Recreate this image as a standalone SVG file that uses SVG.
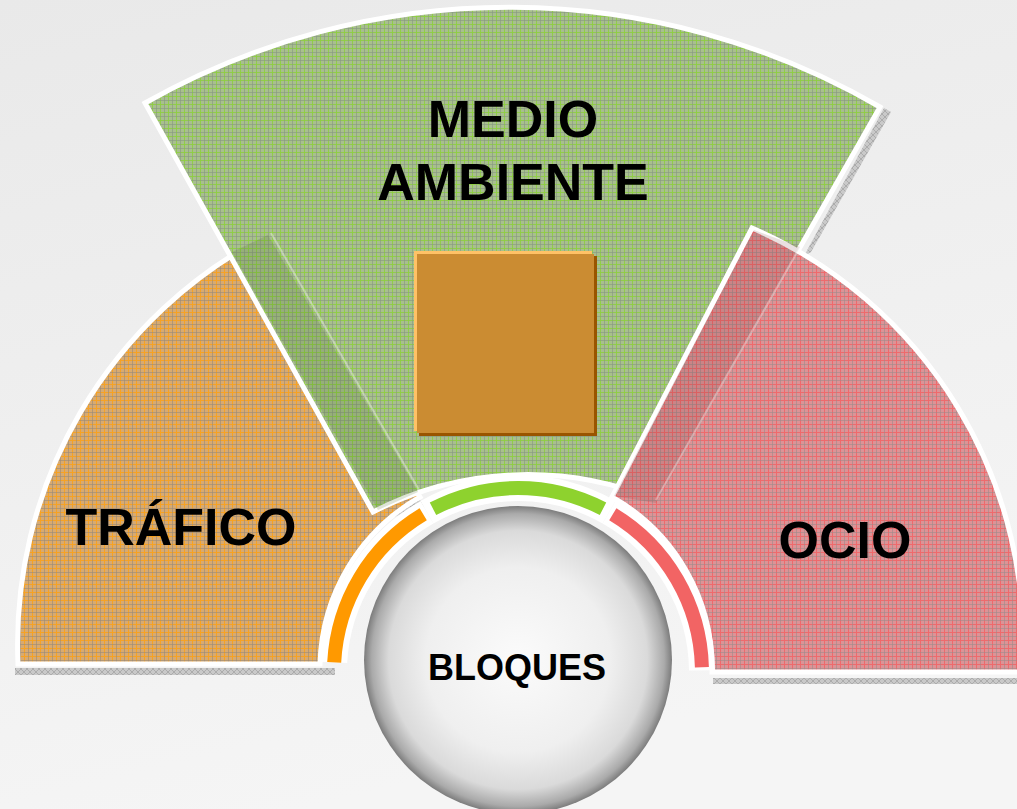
<svg xmlns="http://www.w3.org/2000/svg" width="1017" height="809" viewBox="0 0 1017 809">
<defs>
  <linearGradient id="bg" x1="0" y1="0" x2="0.3" y2="1">
    <stop offset="0" stop-color="#e9e9e9"/>
    <stop offset="1" stop-color="#f5f5f5"/>
  </linearGradient>
  <pattern id="pG" width="8" height="8" patternUnits="userSpaceOnUse">
    <rect width="8" height="8" fill="#a8bf8e"/>
    <rect x="0" y="0" width="8" height="1" fill="#8dcf40" opacity="0.85"/>
    <rect x="0" y="0" width="1" height="8" fill="#8dcf40" opacity="0.85"/>
    <rect x="4" y="0" width="1" height="8" fill="#879880" opacity="0.6"/>
    <rect x="0" y="4" width="8" height="1" fill="#879880" opacity="0.6"/>
  </pattern>
  <pattern id="pO" width="8" height="8" patternUnits="userSpaceOnUse">
    <rect width="8" height="8" fill="#d8aa70"/>
    <rect x="0" y="0" width="8" height="1" fill="#f5a225"/>
    <rect x="0" y="0" width="1" height="8" fill="#f5a225"/>
    <rect x="4" y="0" width="1" height="8" fill="#9a8a78" opacity="0.6"/>
    <rect x="0" y="4" width="8" height="1" fill="#9a8a78" opacity="0.6"/>
  </pattern>
  <pattern id="pR" width="8" height="8" patternUnits="userSpaceOnUse">
    <rect width="8" height="8" fill="#dc9396"/>
    <rect x="0" y="0" width="8" height="1" fill="#ee6a6c"/>
    <rect x="0" y="0" width="1" height="8" fill="#ee6a6c"/>
    <rect x="4" y="0" width="1" height="8" fill="#a08a8a" opacity="0.6"/>
    <rect x="0" y="4" width="8" height="1" fill="#a08a8a" opacity="0.6"/>
  </pattern>
  <pattern id="pS" width="6" height="6" patternUnits="userSpaceOnUse">
    <rect width="6" height="6" fill="#c9c9c9"/>
    <path d="M0 0 L6 6 M6 0 L0 6" stroke="#a5a5a5" stroke-width="0.8"/>
  </pattern>
  <radialGradient id="ball" cx="0.5" cy="0.5" r="0.5">
    <stop offset="0" stop-color="#fbfbfb"/>
    <stop offset="0.6" stop-color="#efefef"/>
    <stop offset="0.84" stop-color="#dadada"/>
    <stop offset="0.95" stop-color="#aaaaaa"/>
    <stop offset="1" stop-color="#7c7c7c"/>
  </radialGradient>
  <style>
    .sector { stroke: #ffffff; stroke-width: 5; stroke-linejoin: miter; }
    .lbl { font-family: "Liberation Sans", Arial, sans-serif; font-weight: bold; fill: #000000; text-anchor: middle; }
    .big { font-size: 52px; }
    .shadow { fill: url(#pS); }
    .ghost { stroke: #ffffff; stroke-opacity: 0.35; stroke-width: 2; fill: none; }
  </style>
</defs>

<rect width="1017" height="809" fill="url(#bg)"/>

<g id="shadows">
  <rect class="shadow" x="15" y="668" width="320" height="7"/>
  <rect class="shadow" x="713" y="678" width="304" height="6"/>
  <polygon class="shadow" points="884,108 891,112 811,252 804,256"/>
  <polygon class="shadow" points="378,516 420,500 424,506 383,521"/>
</g>

<g id="node-trafico">
  <path class="sector" fill="url(#pO)" d="M 18 664 A 460 460 0 0 1 268 235 L 420 497 A 198 198 0 0 0 320 664 Z"/>
  <text class="lbl big" x="181" y="545">TRÁFICO</text>
</g>

<g id="node-medio">
  <path class="sector" fill="url(#pG)" d="M 145 103 A 740 740 0 0 1 880 107 L 656 500 A 338 338 0 0 0 373 512 Z"/>
  <polygon points="232,252 268,235 418,492 378,510" fill="#4a6a20" fill-opacity="0.18"/>
  <line class="ghost" x1="271" y1="233" x2="419" y2="490"/>
  <rect x="419" y="256" width="178" height="180" fill="#995500"/>
  <rect x="414" y="251" width="178" height="180" fill="#ffc266"/>
  <rect x="417" y="254" width="177" height="179" fill="#cb8c32"/>
  <text class="lbl big" x="513" y="137">MEDIO</text>
  <text class="lbl big" x="513" y="200">AMBIENTE</text>
</g>

<g id="node-ocio">
  <path class="sector" fill="url(#pR)" d="M 752 228 A 450 450 0 0 1 1022 672 L 712 672 A 196 196 0 0 0 612 497 Z"/>
  <polygon points="754,230 800,247 656,503 614,496" fill="#6a3030" fill-opacity="0.15"/>
  <line class="ghost" x1="800" y1="247" x2="656" y2="500"/>
  <text class="lbl big" x="845" y="558">OCIO</text>
</g>

<g id="connectors">
  <path d="M 334.2 662.4 A 184 184 0 0 1 427.0 512.2" fill="none" stroke="#ffffff" stroke-width="26"/>
  <path d="M 427.0 512.2 A 184 184 0 0 1 609.0 512.2" fill="none" stroke="#ffffff" stroke-width="26"/>
  <path d="M 609.0 512.2 A 184 184 0 0 1 702.0 670.4" fill="none" stroke="#ffffff" stroke-width="26"/>
  <path d="M 334.2 662.4 A 184 184 0 0 1 423.2 514.3" fill="none" stroke="#ff9900" stroke-width="14"/>
  <path d="M 433.0 508.8 A 184 184 0 0 1 603.0 508.8" fill="none" stroke="#8ed22e" stroke-width="14"/>
  <path d="M 612.8 514.3 A 184 184 0 0 1 701.9 667.2" fill="none" stroke="#f26464" stroke-width="14"/>
</g>

<g id="node-bloques">
  <circle cx="518" cy="660" r="154" fill="url(#ball)"/>
  <text class="lbl" x="517" y="680" font-size="36">BLOQUES</text>
</g>
</svg>
